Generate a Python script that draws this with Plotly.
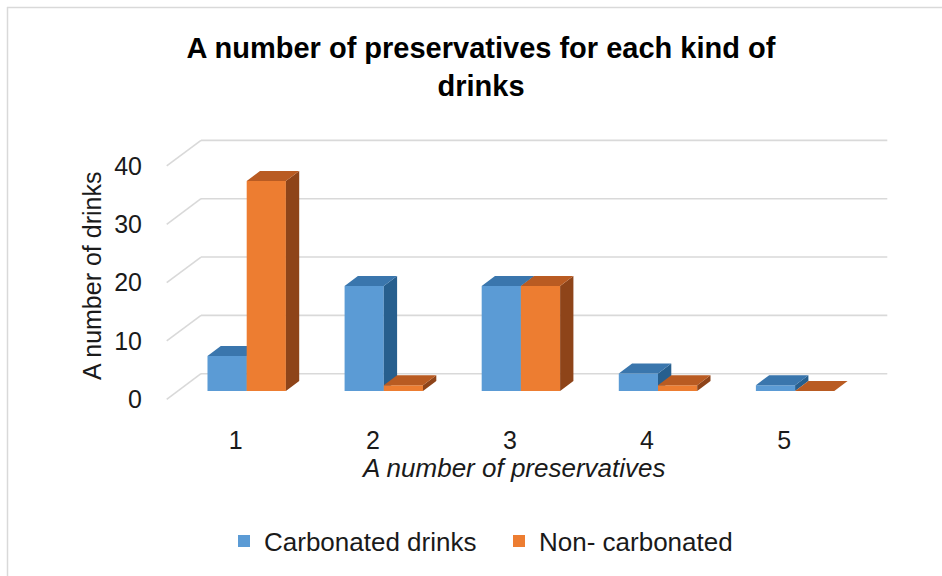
import plotly.graph_objects as go

# ---- data ----
categories = [1, 2, 3, 4, 5]
carbonated = [6, 18, 18, 3, 1]
non_carbonated = [36, 1, 18, 1, 0]
y_ticks = [0, 10, 20, 30, 40]
series_names = ["Carbonated drinks", "Non- carbonated"]

# ---- layout constants (pixels) ----
W, H = 942, 576
PL, PR, PT, PB = 166, 890, 132, 400      # plot area in px
XU, X1PX = 137.1, 246.7                  # px per category, px of category 1
YU, Y0PX = 5.833, 391.0                  # px per unit, px of value 0 (bar plane)
BAR_W = 0.286                            # bar width in category units
DX, DY = 13.3 / XU, 10.0 / YU            # bar depth offsets
FRONT_DY = (399.3 - Y0PX) / YU           # front floor plane below bar plane
BACK_DY = (Y0PX - 373.7) / YU            # back wall above bar plane
BACK_X0 = 1 - (X1PX - 201) / XU
BACK_X1 = 1 + (887.3 - X1PX) / XU
FRONT_X0 = 1 - (X1PX - 166.7) / XU

xr = [1 - (X1PX - PL) / XU, 1 + (PR - X1PX) / XU]
yr = [(Y0PX - PB) / YU, (Y0PX - PT) / YU]

def px_paper_x(px):
    return (px - PL) / (PR - PL)

def px_paper_y(py):
    return (PB - py) / (PB - PT)

colors = {
    "front": ["#5B9BD5", "#ED7D31"],
    "top": ["#3A76AD", "#B95B22"],
    "side": ["#275F8E", "#8E4419"],
}

def faces(values, offset):
    tx, ty, sx, sy = [], [], [], []
    for c, v in zip(categories, values):
        x0 = c + offset
        x1 = x0 + BAR_W
        tx += [x0, x1, x1 + DX, x0 + DX, x0, None]
        ty += [v, v, v + DY, v + DY, v, None]
        sx += [x1, x1, x1 + DX, x1 + DX, x1, None]
        sy += [0, v, v + DY, DY, 0, None]
    return tx, ty, sx, sy

fig = go.Figure()
for i, (vals, off) in enumerate([(carbonated, -BAR_W), (non_carbonated, 0.0)]):
    xa = "x" if i == 0 else "x2"
    ya = "y" if i == 0 else "y2"
    fig.add_trace(go.Bar(
        x=categories, y=vals, width=BAR_W, offset=off,
        marker=dict(color=colors["front"][i], line=dict(width=0)),
        name=series_names[i], xaxis=xa, yaxis=ya, hoverinfo="skip",
    ))
    tx, ty, sx, sy = faces(vals, off)
    fig.add_trace(go.Scatter(x=sx, y=sy, mode="lines", fill="toself",
                             fillcolor=colors["side"][i], line=dict(width=0),
                             showlegend=False, hoverinfo="skip", xaxis=xa, yaxis=ya))
    fig.add_trace(go.Scatter(x=tx, y=ty, mode="lines", fill="toself",
                             fillcolor=colors["top"][i], line=dict(width=0),
                             showlegend=False, hoverinfo="skip", xaxis=xa, yaxis=ya))

shapes = []
grid_col = "#D9D9D9"
for v in y_ticks:
    yb = v + BACK_DY
    yf = v - FRONT_DY
    shapes.append(dict(type="line", xref="x", yref="y", x0=BACK_X0, x1=BACK_X1,
                       y0=yb, y1=yb, line=dict(color=grid_col, width=1.6), layer="below"))
    shapes.append(dict(type="line", xref="x", yref="y", x0=FRONT_X0, x1=BACK_X0,
                       y0=yf, y1=yb, line=dict(color=grid_col, width=1.6), layer="below"))
# chart border (top & left visible)
shapes.append(dict(type="line", xref="paper", yref="paper",
                   x0=px_paper_x(7), x1=px_paper_x(960), y0=px_paper_y(7.5), y1=px_paper_y(7.5),
                   line=dict(color="#D9D9D9", width=1.5)))
shapes.append(dict(type="line", xref="paper", yref="paper",
                   x0=px_paper_x(7.5), x1=px_paper_x(7.5), y0=px_paper_y(7), y1=px_paper_y(600),
                   line=dict(color="#D9D9D9", width=1.5)))

tick_font = dict(family="Liberation Sans, Arial", size=25, color="#1A1A1A")
axis_common = dict(showgrid=False, zeroline=False, showline=False)

fig.update_layout(
    width=W, height=H,
    margin=dict(l=PL, r=W - PR, t=PT, b=H - PB, pad=0),
    paper_bgcolor="white", plot_bgcolor="rgba(0,0,0,0)",
    barmode="overlay",
    showlegend=True,
    title=dict(text="A number of preservatives for each kind of<br>drinks",
               x=481 / W, xanchor="center", xref="container",
               y=1 - 58 / H, yanchor="middle", yref="container",
               font=dict(family="Liberation Sans, Arial", size=29, color="#000000", weight="bold")),
    xaxis=dict(range=xr, tickmode="array",
               tickvals=[c - 0.08 for c in categories], ticktext=[str(c) for c in categories],
               ticks="outside", ticklen=18, tickcolor="rgba(0,0,0,0)",
               tickfont=tick_font, fixedrange=True, **axis_common),
    yaxis=dict(range=yr, tickmode="array",
               tickvals=[v - FRONT_DY for v in y_ticks], ticktext=[str(v) for v in y_ticks],
               ticks="outside", ticklen=18, tickcolor="rgba(0,0,0,0)",
               tickfont=tick_font, fixedrange=True, **axis_common),
    xaxis2=dict(range=xr, overlaying="x", matches="x", visible=False, **axis_common),
    yaxis2=dict(range=yr, overlaying="y", matches="y", visible=False, **axis_common),
    shapes=shapes,
    legend=dict(orientation="h", x=px_paper_x(224), xanchor="left",
                y=px_paper_y(541), yanchor="middle", entrywidth=230,
                font=dict(family="Liberation Sans, Arial", size=26, color="#1A1A1A"),
                bgcolor="rgba(0,0,0,0)", itemclick=False, itemdoubleclick=False),
    annotations=[
        dict(text="A number of drinks", xref="paper", yref="paper",
             x=px_paper_x(92), y=px_paper_y(276), xanchor="center", yanchor="middle",
             textangle=-90, showarrow=False,
             font=dict(family="Liberation Sans, Arial", size=25, color="#1A1A1A")),
        dict(text="<i>A number of preservatives</i>", xref="paper", yref="paper",
             x=px_paper_x(513), y=px_paper_y(468), xanchor="center", yanchor="middle",
             showarrow=False,
             font=dict(family="Liberation Sans, Arial", size=26, color="#1A1A1A")),
    ],
)

fig.write_html("out.html")
